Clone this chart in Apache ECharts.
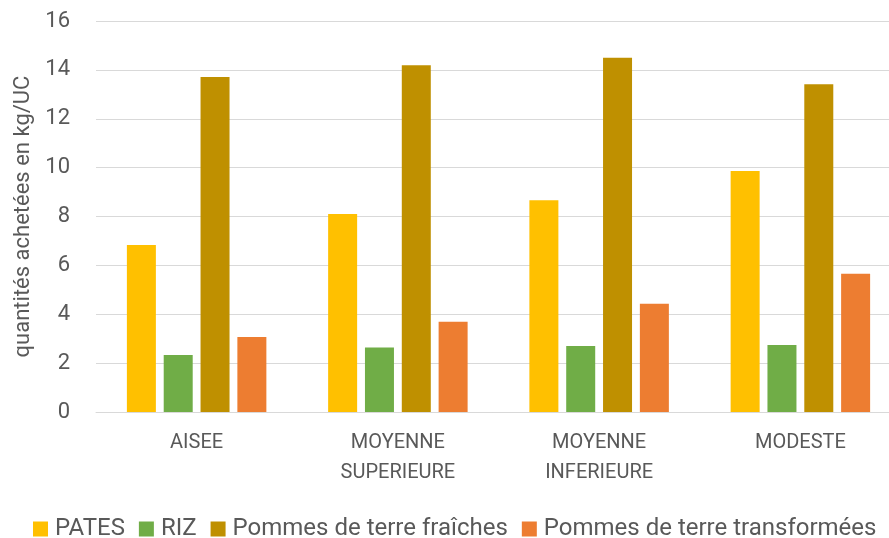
<!DOCTYPE html>
<html>
<head>
<meta charset="utf-8">
<script src="https://cdn.jsdelivr.net/npm/echarts@6/dist/echarts.min.js"></script>
<style>
html,body{margin:0;padding:0;background:#fff;}
#chart{width:889px;height:538px;}
</style>
</head>
<body>
<div id="chart"></div>
<script>
const categories = ['AISEE', 'MOYENNE\nSUPERIEURE', 'MOYENNE\nINFERIEURE', 'MODESTE'];
const seriesNames = ['PATES', 'RIZ', 'Pommes de terre fraîches', 'Pommes de terre transformées'];
const pates = [6.83, 8.10, 8.67, 9.86];
const riz = [2.33, 2.64, 2.70, 2.74];
const pdtFraiches = [13.71, 14.19, 14.50, 13.41];
const pdtTransformees = [3.07, 3.69, 4.43, 5.66];
const yTicks = { min: 0, max: 16, interval: 2 };
const colors = ['#FFC000', '#70AD47', '#BF9000', '#ED7D31'];

const FONT = 'Roboto';
const TXT = '#595959';
const chart = echarts.init(document.getElementById('chart'), null, { renderer: 'canvas' });
const values = [pates, riz, pdtFraiches, pdtTransformees];
chart.setOption({
  animation: false,
  backgroundColor: '#ffffff',
  textStyle: { fontFamily: FONT, color: TXT },
  grid: { left: 96, width: 805, top: 21, bottom: 126, containLabel: false, outerBoundsMode: 'none' },
  legend: {
    left: 28, top: 512,
    itemWidth: 15, itemHeight: 15, itemGap: 14,
    icon: 'rect',
    textStyle: { fontFamily: FONT, fontSize: 24, color: TXT, padding: [0, 0, 0, 2] },
    data: seriesNames
  },
  xAxis: {
    type: 'category',
    data: categories,
    axisLine: { show: true, lineStyle: { color: '#D9D9D9', width: 1 } },
    axisTick: { show: false },
    axisLabel: { color: TXT, fontFamily: FONT, fontSize: 20, lineHeight: 30, margin: 16, interval: 0 }
  },
  yAxis: {
    type: 'value',
    min: yTicks.min, max: yTicks.max, interval: yTicks.interval,
    name: 'quantités achetées en kg/UC',
    nameLocation: 'middle',
    nameGap: 62,
    nameTextStyle: { color: TXT, fontFamily: FONT, fontSize: 22 },
    axisLine: { show: false },
    axisTick: { show: false },
    axisLabel: { color: TXT, fontFamily: FONT, fontSize: 22, margin: 26 },
    splitLine: { lineStyle: { color: '#D9D9D9', width: 1 } }
  },
  series: values.map((v, i) => ({
    name: seriesNames[i],
    type: 'bar',
    data: v,
    barWidth: 29,
    barGap: '27%',
    itemStyle: { color: colors[i] }
  }))
});
</script>
</body>
</html>
